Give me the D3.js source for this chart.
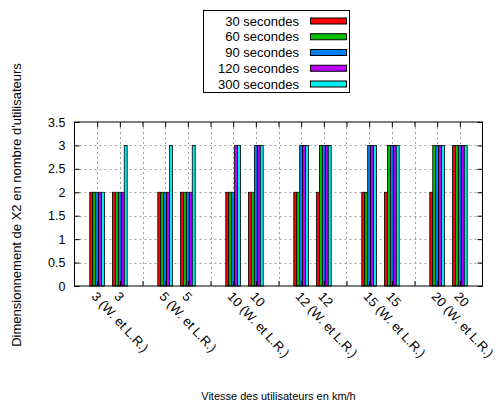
<!DOCTYPE html>
<html><head><meta charset="utf-8">
<script src="https://cdn.jsdelivr.net/npm/d3@7"></script>
<style>body{margin:0;background:#fff}svg{display:block}text{font-family:"Liberation Sans",Arial,sans-serif;fill:#000}</style>
</head><body>
<script>
const categories = ["3 (W. et L.R.)","3","","5 (W. et L.R.)","5","","10 (W. et L.R.)","10","","12 (W. et L.R.)","12","","15 (W. et L.R.)","15","","20 (W. et L.R.)","20"];
const seriesNames = ["30 secondes","60 secondes","90 secondes","120 secondes","300 secondes"];
const seriesColors = ["#ff0000","#00c000","#0080ff","#c000ff","#00eeee"];
const s30  = [2,2,null,2,2,null,2,2,null,2,2,null,2,2,null,2,3];
const s60  = [2,2,null,2,2,null,2,2,null,2,3,null,2,3,null,3,3];
const s90  = [2,2,null,2,2,null,2,3,null,3,3,null,3,3,null,3,3];
const s120 = [2,2,null,2,2,null,3,3,null,3,3,null,3,3,null,3,3];
const s300 = [2,3,null,3,3,null,3,3,null,3,3,null,3,3,null,3,3];
const seriesValues = [s30,s60,s90,s120,s300];
const yTicks = [0,0.5,1,1.5,2,2.5,3,3.5];

const W=502,H=403;
const L=74.5,R=482.5,T=122,B=286;
const svg=d3.select("body").append("svg").attr("width",W).attr("height",H);
const x=d3.scaleLinear().domain([-1,categories.length]).range([L,R]);
const y=d3.scaleLinear().domain([0,3.5]).range([B,T]);
const slot=x(1)-x(0);
const clusterW=slot*0.65, barW=clusterW/5;

// grid
const g=svg.append("g");
g.selectAll(".hg").data(yTicks.slice(1,-1)).join("line")
 .attr("x1",L).attr("x2",R).attr("y1",d=>Math.round(y(d))+0.5).attr("y2",d=>Math.round(y(d))+0.5)
 .attr("stroke","#a0a0a0").attr("stroke-dasharray","2,3");
g.selectAll(".vg").data(d3.range(categories.length)).join("line")
 .attr("y1",T).attr("y2",B).attr("x1",d=>Math.round(x(d))+0.5).attr("x2",d=>Math.round(x(d))+0.5)
 .attr("stroke","#a0a0a0").attr("stroke-dasharray","2,3");

// bars
seriesValues.forEach((vals,si)=>{
  svg.append("g").selectAll("rect").data(vals.map((v,i)=>({v,i})).filter(d=>d.v!=null)).join("rect")
   .attr("x",d=>x(d.i)-clusterW/2+si*barW)
   .attr("width",barW)
   .attr("y",d=>y(d.v)).attr("height",d=>y(0)-y(d.v))
   .attr("fill",seriesColors[si]).attr("stroke","#000").attr("stroke-width",0.8);
});

// axes with inward ticks
const yAxisL=d3.axisLeft(y).tickValues(yTicks).tickSize(-5).tickPadding(10).tickFormat(d3.format(""));
const ya=svg.append("g").attr("transform",`translate(${L},0)`).call(yAxisL);
ya.select(".domain").remove();
ya.selectAll("text").style("font-size","12.5px").attr("x",-9);
const yAxisR=d3.axisRight(y).tickValues(yTicks).tickSize(-5).tickFormat("");
svg.append("g").attr("transform",`translate(${R},0)`).call(yAxisR).select(".domain").remove();
const xTickIdx=d3.range(categories.length);
const xAxisB=d3.axisBottom(x).tickValues(xTickIdx).tickSize(-5).tickFormat("");
svg.append("g").attr("transform",`translate(0,${B})`).call(xAxisB).select(".domain").remove();
const xAxisT=d3.axisTop(x).tickValues(xTickIdx).tickSize(-5).tickFormat("");
svg.append("g").attr("transform",`translate(0,${T})`).call(xAxisT).select(".domain").remove();

svg.append("rect").attr("x",L).attr("y",T).attr("width",R-L).attr("height",B-T)
 .attr("fill","none").attr("stroke","#000");

// rotated x labels
svg.append("g").selectAll("text").data(categories.map((c,i)=>({c,i})).filter(d=>d.c!=="")).join("text")
 .attr("transform",d=>`translate(${x(d.i)-3},${B+8}) rotate(47)`)
 .attr("text-anchor","start").attr("dy","0.35em")
 .style("font-size","13px").text(d=>d.c);

// axis titles
svg.append("text").attr("x",(L+R)/2).attr("y",400).attr("text-anchor","middle").style("font-size","11px")
 .text("Vitesse des utilisateurs en km/h");
svg.append("text").attr("transform",`translate(21,205) rotate(-90)`).attr("text-anchor","middle").style("font-size","13px")
 .text("Dimensionnement de X2 en nombre d'utilisateurs");

// legend
const lg=svg.append("g");
lg.append("rect").attr("x",203.5).attr("y",10.5).attr("width",146).attr("height",82).attr("fill","#fff").attr("stroke","#000");
seriesNames.forEach((n,i)=>{
  const cy=21+i*15.75;
  lg.append("text").attr("x",299).attr("y",cy).attr("dy","0.35em").attr("text-anchor","end").style("font-size","13px").text(n);
  lg.append("rect").attr("x",310.5).attr("y",cy-3).attr("width",36).attr("height",6)
   .attr("fill",seriesColors[i]).attr("stroke","#000");
});
</script>
</body></html>
